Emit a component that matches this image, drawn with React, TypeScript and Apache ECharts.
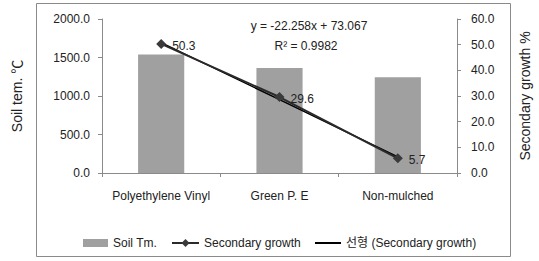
import React, { useEffect, useRef } from "react";
import * as echarts from "echarts";

const categories = ["Polyethylene Vinyl", "Green P. E", "Non-mulched"];
const soilTemp = [1540, 1365, 1245];
const secondaryGrowth = [50.3, 29.6, 5.7];
const trendValues = [50.8, 28.6, 6.3];
const leftTicks = [0, 500, 1000, 1500, 2000];
const rightTicks = [0, 10, 20, 30, 40, 50, 60];
const equationText = "y = -22.258x + 73.067";
const r2Text = "R² = 0.9982";

const FONT = "'Liberation Sans', 'Noto Sans CJK KR', sans-serif";

export default function App() {
  const ref = useRef<HTMLDivElement>(null);
  useEffect(() => {
    if (!ref.current) return;
    const chart = echarts.init(ref.current, undefined, { renderer: "svg" });
    const axisColor = "#8a8a8a";
    chart.setOption({
      animation: false,
      backgroundColor: "#ffffff",
      textStyle: { fontFamily: FONT },
      grid: { left: 102, right: 82, top: 19, bottom: 88 },
      xAxis: {
        type: "category",
        data: categories,
        axisLine: { lineStyle: { color: axisColor } },
        axisTick: { show: true, length: 4, lineStyle: { color: axisColor } },
        axisLabel: { color: "#222", fontSize: 12, margin: 17, interval: 0, fontFamily: FONT },
      },
      yAxis: [
        {
          type: "value",
          min: leftTicks[0],
          max: leftTicks[leftTicks.length - 1],
          interval: 500,
          splitLine: { show: false },
          axisLine: { show: true, lineStyle: { color: axisColor } },
          axisTick: { show: true, length: 4, lineStyle: { color: axisColor } },
          axisLabel: {
            color: "#222",
            fontSize: 12,
            margin: 12,
            fontFamily: FONT,
            formatter: (v: number) => v.toFixed(1),
          },
        },
        {
          type: "value",
          position: "right",
          min: rightTicks[0],
          max: rightTicks[rightTicks.length - 1],
          interval: 10,
          splitLine: { show: false },
          axisLine: { show: true, lineStyle: { color: axisColor } },
          axisTick: { show: true, length: 4, lineStyle: { color: axisColor } },
          axisLabel: {
            color: "#222",
            fontSize: 12,
            margin: 14,
            fontFamily: FONT,
            formatter: (v: number) => v.toFixed(1),
          },
        },
      ],
      legend: [
        {
          left: 78,
          top: 232,
          itemWidth: 25,
          itemHeight: 8,
          textStyle: { color: "#222", fontSize: 12, fontFamily: FONT },
          data: [{ name: "Soil Tm.", icon: "rect" }],
        },
        {
          left: 166,
          top: 232,
          itemWidth: 27,
          itemHeight: 10,
          textStyle: { color: "#222", fontSize: 12, fontFamily: FONT },
          data: ["Secondary growth"],
        },
        {
          left: 309,
          top: 232,
          itemWidth: 26,
          itemHeight: 10,
          itemStyle: { opacity: 0 },
          textStyle: { color: "#222", fontSize: 12, fontFamily: FONT },
          data: ["선형 (Secondary growth)"],
        },
      ],
      series: [
        {
          name: "Soil Tm.",
          type: "bar",
          data: soilTemp,
          barWidth: "39%",
          itemStyle: { color: "#a0a0a0" },
          yAxisIndex: 0,
        },
        {
          name: "선형 (Secondary growth)",
          type: "line",
          data: trendValues,
          yAxisIndex: 1,
          symbol: "none",
          lineStyle: { color: "#000000", width: 1.5 },
          itemStyle: { color: "#000000" },
          z: 3,
        },
        {
          name: "Secondary growth",
          type: "line",
          data: secondaryGrowth,
          yAxisIndex: 1,
          symbol: "diamond",
          symbolSize: 10,
          lineStyle: { color: "#2a2a2a", width: 2 },
          itemStyle: { color: "#3a3a3a" },
          label: {
            show: true,
            position: "right",
            distance: 6,
            offset: [0, 2],
            color: "#222",
            fontSize: 12,
            fontFamily: FONT,
            formatter: (p: any) => Number(p.value).toFixed(1),
          },
          z: 4,
        },
      ],
      graphic: [
        {
          type: "rect",
          shape: { x: 36.5, y: 3.5, width: 474, height: 253 },
          style: { fill: "none", stroke: "#8a8a8a", lineWidth: 1 },
          silent: true,
        },
        {
          type: "text",
          x: 309,
          y: 26,
          style: {
            text: equationText,
            fill: "#222",
            font: `12px ${FONT}`,
            textAlign: "center",
            textVerticalAlign: "middle",
          },
        },
        {
          type: "text",
          x: 306,
          y: 46,
          style: {
            text: r2Text,
            fill: "#222",
            font: `12px ${FONT}`,
            textAlign: "center",
            textVerticalAlign: "middle",
          },
        },
        {
          type: "text",
          x: 17,
          y: 96,
          rotation: Math.PI / 2,
          style: {
            text: "Soil tem. ℃",
            fill: "#222",
            font: `14px ${FONT}`,
            textAlign: "center",
            textVerticalAlign: "middle",
          },
        },
        {
          type: "text",
          x: 525,
          y: 96,
          rotation: Math.PI / 2,
          style: {
            text: "Secondary growth %",
            fill: "#222",
            font: `14px ${FONT}`,
            textAlign: "center",
            textVerticalAlign: "middle",
          },
        },
      ],
    });
    return () => chart.dispose();
  }, []);
  return (
    <div
      ref={ref}
      style={{ position: "absolute", left: 0, top: 0, width: 539, height: 261 }}
    />
  );
}
